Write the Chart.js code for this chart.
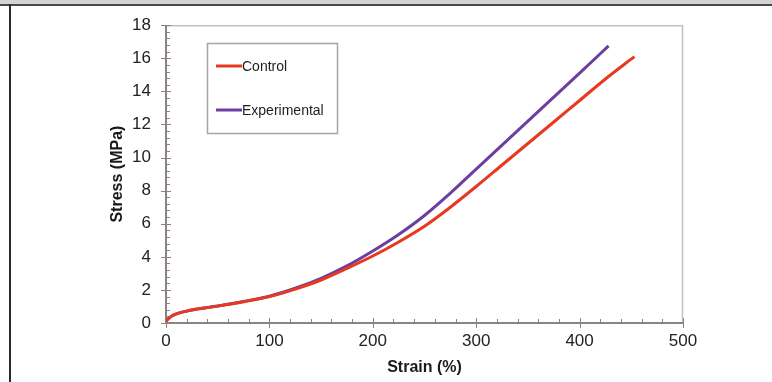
<!DOCTYPE html>
<html>
<head>
<meta charset="utf-8">
<script src="https://cdn.jsdelivr.net/npm/chart.js@4/dist/chart.umd.min.js"></script>
<style>
  html, body { margin: 0; padding: 0; background: #fff; }
  #frame { position: relative; width: 772px; height: 382px; overflow: hidden; }
  #topband { position: absolute; left: 0; top: 0; width: 772px; height: 4px; background: #d4d4d4; border-bottom: 2px solid #4a4a4a; }
  #leftline { position: absolute; left: 9px; top: 4px; width: 2px; height: 378px; background: #2a2a2a; }
  canvas { position: absolute; left: 0; top: 0; }
</style>
</head>
<body>
<div id="frame">
  <canvas id="c" width="772" height="382"></canvas>
  <div id="topband"></div>
  <div id="leftline"></div>
</div>
<script>
// Tensile curves: strain (%) vs stress (MPa)
const controlStrain = [0, 5, 10, 20, 30, 40, 50, 75, 100, 125, 150, 175, 200, 225, 250, 275, 300, 325, 350, 375, 400, 425, 453];
const controlStress = [0.12, 0.4, 0.55, 0.72, 0.84, 0.93, 1.02, 1.28, 1.6, 2.05, 2.6, 3.3, 4.05, 4.9, 5.85, 7.0, 8.25, 9.55, 10.85, 12.15, 13.45, 14.75, 16.1];

const expStrain = [0, 5, 10, 20, 30, 40, 50, 75, 100, 125, 150, 175, 200, 225, 250, 275, 300, 325, 350, 375, 400, 428];
const expStress = [0.12, 0.4, 0.55, 0.72, 0.84, 0.94, 1.03, 1.3, 1.62, 2.1, 2.7, 3.45, 4.35, 5.35, 6.5, 7.85, 9.3, 10.75, 12.2, 13.65, 15.1, 16.75];

const seriesLabels = ['Control', 'Experimental'];
const seriesColors = ['#e8381f', '#6b3fa0'];

const xTicks = [0, 100, 200, 300, 400, 500];
const yTicks = [0, 2, 4, 6, 8, 10, 12, 14, 16, 18];

const toPoints = (xs, ys) => xs.map((x, i) => ({ x: x, y: ys[i] }));

const FONT = "'Liberation Sans', Arial, sans-serif";
const AXIS = '#8c8282';
const BOX = '#c4c0c0';

// frame, axis lines, tick marks (major crossing, minor inside) and in-plot legend
const decorations = {
  id: 'decorations',
  beforeDatasetsDraw(chart) {
    const { ctx, chartArea: a, scales: { x, y } } = chart;
    ctx.save();
    ctx.strokeStyle = BOX;
    ctx.lineWidth = 1.5;
    ctx.beginPath();
    ctx.moveTo(a.left, a.top + 0.5);
    ctx.lineTo(a.right - 0.5, a.top + 0.5);
    ctx.lineTo(a.right - 0.5, a.bottom);
    ctx.stroke();

    ctx.strokeStyle = AXIS;
    ctx.lineWidth = 1;
    for (let v = 0; v <= 500; v += 20) {
      const px = Math.round(x.getPixelForValue(v)) + 0.5;
      ctx.beginPath();
      ctx.moveTo(px, a.bottom);
      ctx.lineTo(px, a.bottom - 4);
      ctx.stroke();
    }
    for (let v = 0; v <= 18.001; v += 0.4) {
      const py = Math.round(y.getPixelForValue(v)) + 0.5;
      ctx.beginPath();
      ctx.moveTo(a.left, py);
      ctx.lineTo(a.left + 4, py);
      ctx.stroke();
    }
    xTicks.forEach(v => {
      const px = Math.round(x.getPixelForValue(v)) + 0.5;
      ctx.beginPath();
      ctx.moveTo(px, a.bottom - 5);
      ctx.lineTo(px, a.bottom + 5);
      ctx.stroke();
    });
    yTicks.forEach(v => {
      const py = Math.round(y.getPixelForValue(v)) + 0.5;
      ctx.beginPath();
      ctx.moveTo(a.left - 5, py);
      ctx.lineTo(a.left + 5, py);
      ctx.stroke();
    });
    ctx.lineWidth = 2;
    ctx.beginPath();
    ctx.moveTo(a.left, a.top);
    ctx.lineTo(a.left, a.bottom);
    ctx.lineTo(a.right, a.bottom);
    ctx.stroke();
    ctx.restore();
  },
  afterDatasetsDraw(chart) {
    const { ctx } = chart;
    const bx = 207, by = 43, bw = 130, bh = 90;
    ctx.save();
    ctx.fillStyle = '#fff';
    ctx.fillRect(bx, by, bw, bh);
    ctx.strokeStyle = '#a8a4a4';
    ctx.lineWidth = 1.5;
    ctx.strokeRect(bx + 0.5, by + 0.5, bw, bh);
    const rows = [66, 110];
    chart.data.datasets.forEach((ds, i) => {
      const ry = rows[i];
      ctx.strokeStyle = ds.borderColor;
      ctx.lineWidth = 3;
      ctx.beginPath();
      ctx.moveTo(216, ry);
      ctx.lineTo(242, ry);
      ctx.stroke();
      ctx.fillStyle = '#1e1e1e';
      ctx.font = '14px ' + FONT;
      ctx.textBaseline = 'middle';
      ctx.textAlign = 'left';
      ctx.fillText(ds.label, 242, ry + 1);
    });
    ctx.restore();
  }
};

new Chart(document.getElementById('c'), {
  type: 'line',
  data: {
    datasets: [
      { label: seriesLabels[0], data: toPoints(controlStrain, controlStress), borderColor: seriesColors[0], borderWidth: 3, pointRadius: 0, cubicInterpolationMode: 'monotone', fill: false },
      { label: seriesLabels[1], data: toPoints(expStrain, expStress), borderColor: seriesColors[1], borderWidth: 3, pointRadius: 0, cubicInterpolationMode: 'monotone', fill: false }
    ]
  },
  options: {
    responsive: false,
    animation: false,
    devicePixelRatio: 1,
    layout: { autoPadding: false, padding: { top: 20, right: 89, left: 108, bottom: 0 } },
    plugins: { legend: { display: false }, tooltip: { enabled: false } },
    scales: {
      x: {
        type: 'linear',
        min: 0, max: 500,
        afterBuildTicks: s => { s.ticks = xTicks.map(v => ({ value: v })); },
        afterFit: s => { s.height = 59; },
        grid: { display: false, drawTicks: false },
        border: { display: false },
        ticks: { padding: 8, color: '#222', font: { family: FONT, size: 17 }, maxRotation: 0 },
        title: { display: true, text: 'Strain (%)', color: '#1a1a1a', font: { family: FONT, size: 16, weight: 'bold' }, padding: { top: 1, bottom: 5 } }
      },
      y: {
        type: 'linear',
        min: 0, max: 18,
        afterBuildTicks: s => { s.ticks = yTicks.map(v => ({ value: v })); },
        afterFit: s => { s.width = 58; },
        grid: { display: false, drawTicks: false },
        border: { display: false },
        ticks: { padding: 15, color: '#222', font: { family: FONT, size: 17 } },
        title: { display: true, text: 'Stress (MPa)', color: '#1a1a1a', font: { family: FONT, size: 16, weight: 'bold' }, padding: { top: 0, bottom: 0 } }
      }
    }
  },
  plugins: [decorations]
});
</script>
</body>
</html>
